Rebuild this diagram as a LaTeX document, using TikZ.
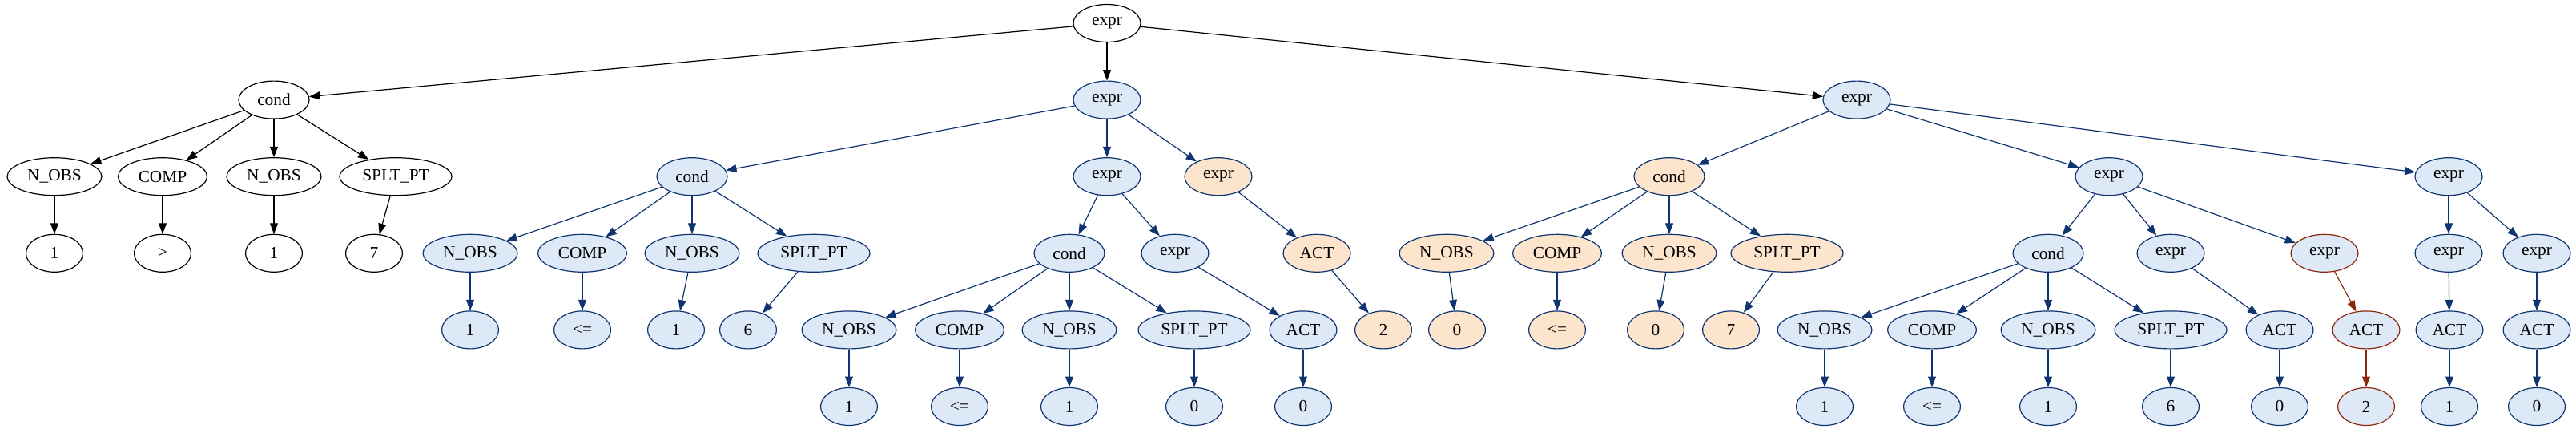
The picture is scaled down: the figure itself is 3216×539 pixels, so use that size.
\documentclass[tikz,border=0pt]{standalone}
\usepackage{fontspec}
\setmainfont{Liberation Serif}
\usetikzlibrary{shapes.geometric,arrows.meta}
\definecolor{bfill}{HTML}{DDE9F6}
\definecolor{bline}{RGB}{16,52,112}
\definecolor{ofill}{HTML}{FDE5CD}
\definecolor{rline}{RGB}{140,40,12}
\begin{document}
\begin{tikzpicture}[x=0.75pt,y=-0.75pt,
  nd/.style={ellipse,draw,line width=0.9pt,inner sep=0pt,minimum height=35.25pt,font=\fontsize{16}{19}\selectfont},
  sBk/.style={nd,fill=white,draw=black},
  sBl/.style={nd,fill=bfill,draw=bline},
  sOr/.style={nd,fill=ofill,draw=bline},
  sRd/.style={nd,fill=bfill,draw=rline},
  wX/.style={minimum width=63pt},
  wC/.style={minimum width=66pt},
  wN/.style={minimum width=88.5pt},
  wM/.style={minimum width=83.25pt},
  wS/.style={minimum width=105pt},
  wA/.style={minimum width=63pt},
  wL/.style={minimum width=53.25pt},
  ed/.style={-{Triangle[length=10pt,width=7.5pt]},line width=0.9pt},
  eK/.style={ed,color=black},
  eB/.style={ed,color=bline},
  eR/.style={ed,color=rline}]
\useasboundingbox (0,0) rectangle (3216,539);
\def\yA{29}\def\yB{124.6}\def\yC{220.2}\def\yD{315.8}\def\yE{411.4}\def\yF{507}
% row 0
\node[sBk,wX] (r) at (1382,\yA) {expr};
% row 1
\node[sBk,wC] (c1) at (342,\yB) {cond};
\node[sBl,wX] (e1) at (1382,\yB) {expr};
\node[sBl,wX] (e2) at (2318,\yB) {expr};
% row 2
\node[sBk,wN] (c1n1) at (68,\yC) {N\_OBS};
\node[sBk,wM] (c1cp) at (203,\yC) {COMP};
\node[sBk,wN] (c1n2) at (342,\yC) {N\_OBS};
\node[sBk,wS] (c1sp) at (494,\yC) {SPLT\_PT};
\node[sBl,wC] (c2) at (864,\yC) {cond};
\node[sBl,wX] (e3) at (1382,\yC) {expr};
\node[sOr,wX] (e4) at (1521,\yC) {expr};
\node[sOr,wC] (c5) at (2084,\yC) {cond};
\node[sBl,wX] (e6) at (2633,\yC) {expr};
\node[sBl,wX] (e7) at (3057,\yC) {expr};
% row 3
\node[sBk,wL] (l1) at (68,\yD) {1};
\node[sBk,wL] (l2) at (203,\yD) {>};
\node[sBk,wL] (l3) at (342,\yD) {1};
\node[sBk,wL] (l4) at (467,\yD) {7};
\node[sBl,wN] (c2n1) at (587,\yD) {N\_OBS};
\node[sBl,wM] (c2cp) at (727,\yD) {COMP};
\node[sBl,wN] (c2n2) at (864,\yD) {N\_OBS};
\node[sBl,wS] (c2sp) at (1016,\yD) {SPLT\_PT};
\node[sBl,wC] (c3) at (1335,\yD) {cond};
\node[sBl,wX] (e8) at (1467,\yD) {expr};
\node[sOr,wA] (a4) at (1644,\yD) {ACT};
\node[sOr,wN] (c5n1) at (1806,\yD) {N\_OBS};
\node[sOr,wM] (c5cp) at (1944,\yD) {COMP};
\node[sOr,wN] (c5n2) at (2084,\yD) {N\_OBS};
\node[sOr,wS] (c5sp) at (2231,\yD) {SPLT\_PT};
\node[sBl,wC] (c6) at (2557,\yD) {cond};
\node[sBl,wX] (e9) at (2710,\yD) {expr};
\node[sRd,wX] (e10) at (2902,\yD) {expr};
\node[sBl,wX] (e11) at (3057,\yD) {expr};
\node[sBl,wX] (e12) at (3167,\yD) {expr};
% row 4
\node[sBl,wL] (c2l1) at (587,\yE) {1};
\node[sBl,wL] (c2l2) at (727,\yE) {<=};
\node[sBl,wL] (c2l3) at (844,\yE) {1};
\node[sBl,wL] (c2l4) at (934,\yE) {6};
\node[sBl,wN] (c3n1) at (1060,\yE) {N\_OBS};
\node[sBl,wM] (c3cp) at (1198,\yE) {COMP};
\node[sBl,wN] (c3n2) at (1335,\yE) {N\_OBS};
\node[sBl,wS] (c3sp) at (1491,\yE) {SPLT\_PT};
\node[sBl,wA] (a8) at (1627,\yE) {ACT};
\node[sOr,wL] (a4l) at (1727,\yE) {2};
\node[sOr,wL] (c5l1) at (1819,\yE) {0};
\node[sOr,wL] (c5l2) at (1944,\yE) {<=};
\node[sOr,wL] (c5l3) at (2067,\yE) {0};
\node[sOr,wL] (c5l4) at (2161,\yE) {7};
\node[sBl,wN] (c6n1) at (2278,\yE) {N\_OBS};
\node[sBl,wM] (c6cp) at (2412,\yE) {COMP};
\node[sBl,wN] (c6n2) at (2557,\yE) {N\_OBS};
\node[sBl,wS] (c6sp) at (2710,\yE) {SPLT\_PT};
\node[sBl,wA] (a9) at (2846,\yE) {ACT};
\node[sRd,wA] (a10) at (2954,\yE) {ACT};
\node[sBl,wA] (a11) at (3058,\yE) {ACT};
\node[sBl,wA] (a12) at (3167,\yE) {ACT};
% row 5
\node[sBl,wL] (c3l1) at (1060,\yF) {1};
\node[sBl,wL] (c3l2) at (1198,\yF) {<=};
\node[sBl,wL] (c3l3) at (1335,\yF) {1};
\node[sBl,wL] (c3l4) at (1491,\yF) {0};
\node[sBl,wL] (a8l) at (1627,\yF) {0};
\node[sBl,wL] (c6l1) at (2278,\yF) {1};
\node[sBl,wL] (c6l2) at (2412,\yF) {<=};
\node[sBl,wL] (c6l3) at (2557,\yF) {1};
\node[sBl,wL] (c6l4) at (2710,\yF) {6};
\node[sBl,wL] (a9l) at (2846,\yF) {0};
\node[sRd,wL] (a10l) at (2954,\yF) {2};
\node[sBl,wL] (a11l) at (3058,\yF) {1};
\node[sBl,wL] (a12l) at (3167,\yF) {0};
% edges
\foreach \a/\b in {r/c1,r/e1,r/e2,c1/c1n1,c1/c1cp,c1/c1n2,c1/c1sp,c1n1/l1,c1cp/l2,c1n2/l3,c1sp/l4}
  \draw[eK] (\a) -- (\b);
\foreach \a/\b in {e1/c2,e1/e3,e1/e4,c2/c2n1,c2/c2cp,c2/c2n2,c2/c2sp,c2n1/c2l1,c2cp/c2l2,c2n2/c2l3,c2sp/c2l4,
  e3/c3,e3/e8,c3/c3n1,c3/c3cp,c3/c3n2,c3/c3sp,c3n1/c3l1,c3cp/c3l2,c3n2/c3l3,c3sp/c3l4,e8/a8,a8/a8l,e4/a4,a4/a4l,
  e2/c5,e2/e6,e2/e7,c5/c5n1,c5/c5cp,c5/c5n2,c5/c5sp,c5n1/c5l1,c5cp/c5l2,c5n2/c5l3,c5sp/c5l4,
  e6/c6,e6/e9,e6/e10,c6/c6n1,c6/c6cp,c6/c6n2,c6/c6sp,c6n1/c6l1,c6cp/c6l2,c6n2/c6l3,c6sp/c6l4,e9/a9,a9/a9l,
  e7/e11,e7/e12,e11/a11,a11/a11l,e12/a12,a12/a12l}
  \draw[eB] (\a) -- (\b);
\foreach \a/\b in {e10/a10,a10/a10l}
  \draw[eR] (\a) -- (\b);
\end{tikzpicture}
\end{document}
